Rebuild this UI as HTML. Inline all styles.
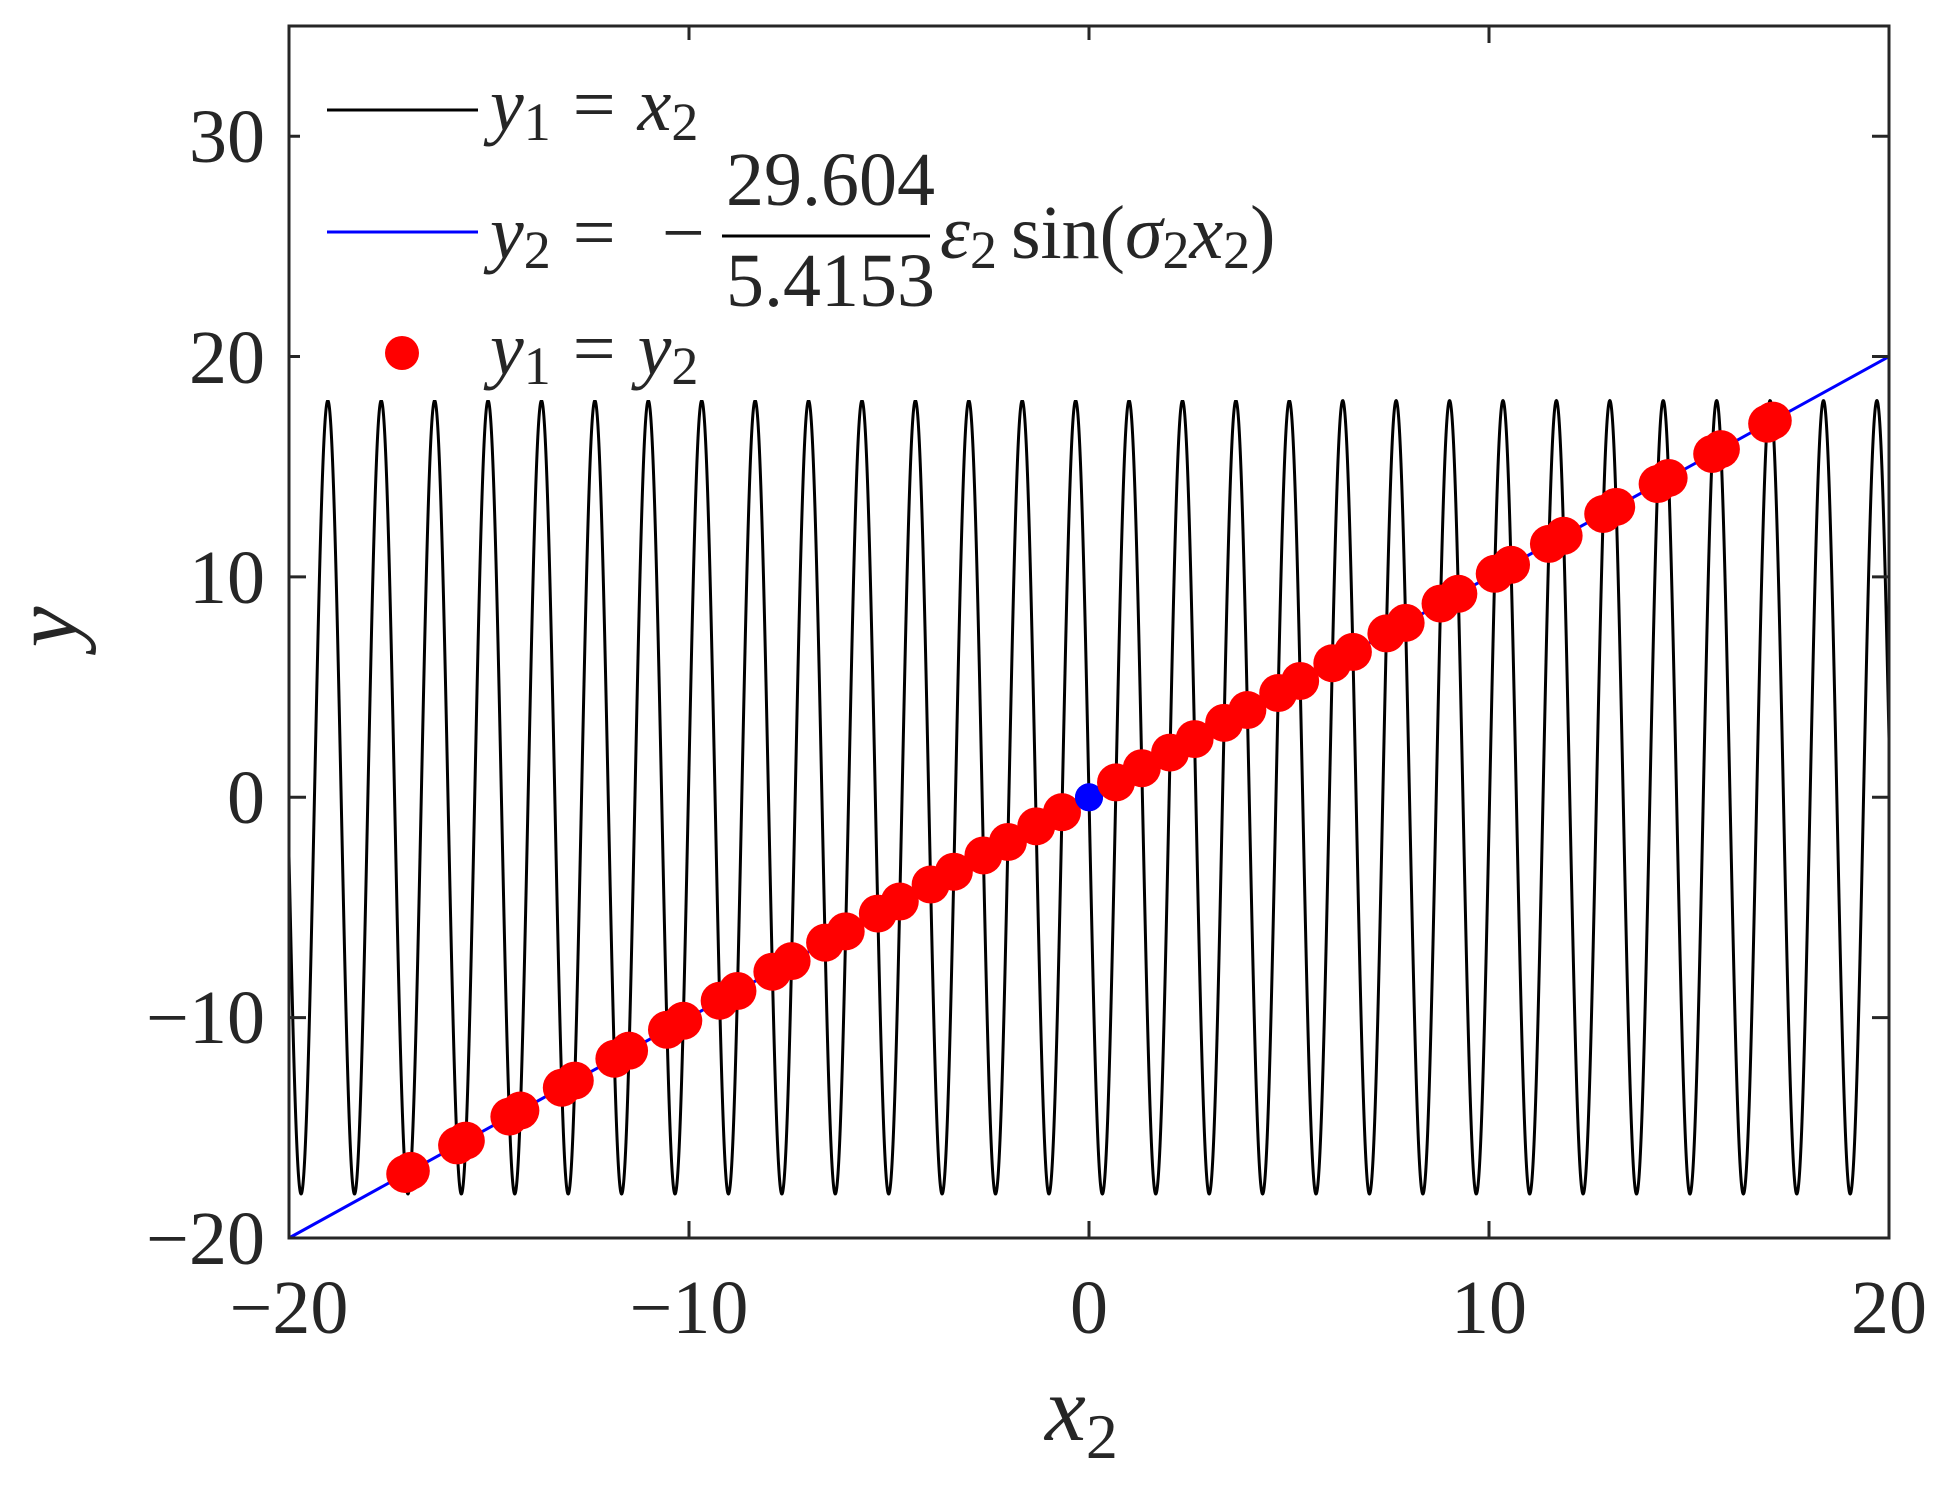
<!DOCTYPE html>
<html><head><meta charset="utf-8"><style>
html,body{margin:0;padding:0;background:#fff;}
svg{display:block;}
text{font-family:"Liberation Serif","DejaVu Serif",serif;fill:#262626;}
.i{font-style:italic;}
</style></head><body>
<svg id="s" width="1946" height="1491" viewBox="0 0 1946 1491" xmlns="http://www.w3.org/2000/svg">
<rect width="1946" height="1491" fill="#fff"/>
<g id="plot"></g>
<rect x="289" y="26" width="1600" height="1212" fill="none" stroke="#262626" stroke-width="3"/>
<g id="ticks" stroke="#262626" stroke-width="3"></g>
<g font-size="76" text-anchor="middle">
<text x="289" y="1333">−20</text>
<text x="689" y="1333">−10</text>
<text x="1089" y="1333">0</text>
<text x="1489" y="1333">10</text>
<text x="1889" y="1333">20</text>
</g>
<g font-size="76" text-anchor="end">
<text x="265" y="1264">−20</text>
<text x="265" y="1043">−10</text>
<text x="265" y="823">0</text>
<text x="265" y="603">10</text>
<text x="265" y="383">20</text>
<text x="265" y="162">30</text>
</g>
<text x="1045" y="1440" font-size="92" class="i">x<tspan font-size="64" font-style="normal" dy="18">2</tspan></text>
<text x="0" y="0" font-size="92" class="i" transform="translate(76,627) rotate(-90)" text-anchor="middle">y</text>
<rect x="300" y="40" width="1020" height="360" fill="#fff"/>
<line x1="327" y1="110" x2="478" y2="110" stroke="#000" stroke-width="3"/>
<line x1="327" y1="232" x2="478" y2="232" stroke="#0000ff" stroke-width="3"/>
<circle cx="402" cy="353" r="17" fill="#ff0000"/>
<g font-size="76">
<text x="490" y="130" class="i">y<tspan font-size="54" font-style="normal" dy="10">1</tspan><tspan font-style="normal" dy="-10" dx="22">=</tspan><tspan dx="22">x</tspan><tspan font-size="54" font-style="normal" dy="10">2</tspan></text>
<text x="490" y="258" class="i">y<tspan font-size="54" font-style="normal" dy="10">2</tspan><tspan font-style="normal" dy="-10" dx="22">=</tspan></text>
<text x="662" y="258">−</text>
<text x="726" y="205" font-size="76">29.604</text>
<line x1="722" y1="236" x2="930" y2="236" stroke="#000" stroke-width="3"/>
<text x="726" y="306" font-size="76">5.4153</text>
<text x="940" y="258" class="i">ε<tspan font-size="54" font-style="normal" dy="10">2</tspan><tspan font-style="normal" dy="-10" dx="14">sin(</tspan><tspan>σ</tspan><tspan font-size="54" font-style="normal" dy="10">2</tspan><tspan dy="-10">x</tspan><tspan font-size="54" font-style="normal" dy="10">2</tspan><tspan font-style="normal" dy="-10">)</tspan></text>
<text x="490" y="374" class="i">y<tspan font-size="54" font-style="normal" dy="10">1</tspan><tspan font-style="normal" dy="-10" dx="22">=</tspan><tspan dx="22">y</tspan><tspan font-size="54" font-style="normal" dy="10">2</tspan></text>
</g>
<script>
(function(){
var NS="http://www.w3.org/2000/svg";
function X(x){return 289+(x+20)*40;}
function Y(y){return 1238-(y+20)*22.036;}
var sig=4.705,A=18;
function f(x){return -A*Math.sin(sig*x);}
var g=document.getElementById('plot');
var d="";
for(var i=0;i<=8000;i++){var x=-20+40*i/8000;d+=(i?"L":"M")+X(x).toFixed(2)+" "+Y(f(x)).toFixed(2);}
var p=document.createElementNS(NS,'path');p.setAttribute('d',d);p.setAttribute('fill','none');p.setAttribute('stroke','#000');p.setAttribute('stroke-width','3');g.appendChild(p);
var l=document.createElementNS(NS,'line');l.setAttribute('x1',X(-20));l.setAttribute('y1',Y(-20));l.setAttribute('x2',X(20));l.setAttribute('y2',Y(20));l.setAttribute('stroke','#0000ff');l.setAttribute('stroke-width','3');g.appendChild(l);
function h(x){return x-f(x);}
var roots=[];var N=40000;var prev=h(-20);
for(var i=1;i<=N;i++){var x=-20+40*i/N;var v=h(x);
 if(prev*v<=0){var a=x-40/N,b=x;for(var k=0;k<50;k++){var m=(a+b)/2;if(h(a)*h(m)<=0)b=m;else a=m;}roots.push((a+b)/2);}
 prev=v;}
roots.forEach(function(r){
 var c=document.createElementNS(NS,'circle');c.setAttribute('cx',X(r));c.setAttribute('cy',Y(r));
 if(Math.abs(r)<0.05){c.setAttribute('r',14);c.setAttribute('fill','#0000ff');}else{c.setAttribute('r',19);c.setAttribute('fill','#ff0000');}
 g.appendChild(c);});
var t=document.getElementById('ticks');
function ln(a,b,c,e){var q=document.createElementNS(NS,'line');q.setAttribute('x1',a);q.setAttribute('y1',b);q.setAttribute('x2',c);q.setAttribute('y2',e);t.appendChild(q);}
[-20,-10,0,10,20].forEach(function(v){ln(X(v),1238,X(v),1221);ln(X(v),26,X(v),43);});
[-20,-10,0,10,20,30].forEach(function(v){ln(289,Y(v),306,Y(v));ln(1889,Y(v),1872,Y(v));});
})();
</script>
</svg>
</body></html>
